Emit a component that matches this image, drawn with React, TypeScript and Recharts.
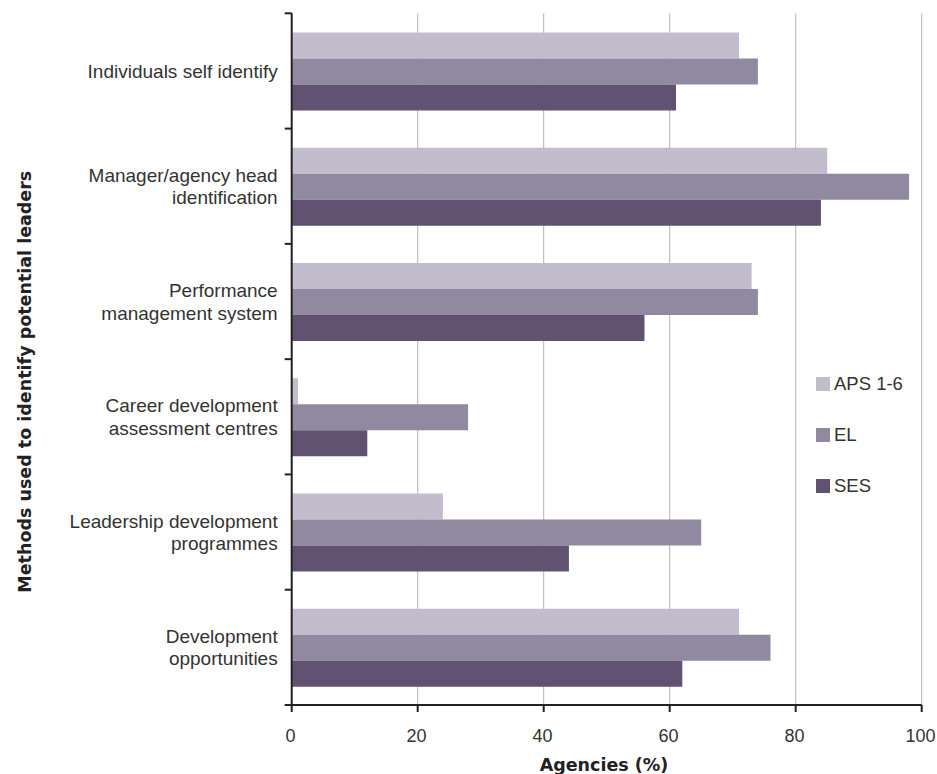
import React from 'react';
import { BarChart, Bar, XAxis, YAxis, CartesianGrid, Legend } from 'recharts';

const categories = [
  'Individuals self identify',
  'Manager/agency head\nidentification',
  'Performance\nmanagement system',
  'Career development\nassessment centres',
  'Leadership development\nprogrammes',
  'Development\nopportunities',
];
const apsValues = [71, 85, 73, 1, 24, 71];
const elValues = [74, 98, 74, 28, 65, 76];
const sesValues = [61, 84, 56, 12, 44, 62];
const xTicks = [0, 20, 40, 60, 80, 100];
const seriesNames = ['APS 1-6', 'EL', 'SES'];
const seriesKeys = ['aps', 'el', 'ses'];
const colors = ['#c1bdcd', '#91899f', '#615272'];

const data = categories.map((c, i) => ({
  category: c,
  aps: apsValues[i],
  el: elValues[i],
  ses: sesValues[i],
}));

const BODY_FONT = '"Liberation Sans", Arial, sans-serif';
const TITLE_FONT = '"DejaVu Sans", sans-serif';
const TICK_MARGIN = 14;
const TICK_LEN = 7;

const CatTick = (props: any) => {
  const { x, y, payload, index, visibleTicksCount } = props;
  const lines = String(payload.value).split('\n');
  const lh = 22.6;
  const y0 = y - ((lines.length - 1) * lh) / 2 + 6.8;
  const half = payload.offset ?? 0;
  const axisX = x + TICK_MARGIN;
  const isLast = index === visibleTicksCount - 1;
  return (
    <g>
      <line x1={axisX - TICK_LEN} x2={axisX} y1={y - half} y2={y - half} stroke="#222" strokeWidth={2} />
      {isLast && (
        <line x1={axisX - TICK_LEN} x2={axisX} y1={y + half} y2={y + half} stroke="#222" strokeWidth={2} />
      )}
      <text x={x} y={y0} textAnchor="end" fill="#333" fontSize={19} fontFamily={BODY_FONT}>
        {lines.map((l, i) => (
          <tspan key={i} x={x} y={y0 + i * lh}>
            {l}
          </tspan>
        ))}
      </text>
    </g>
  );
};

const LegendContent = () => (
  <div style={{ fontFamily: BODY_FONT }}>
    {seriesNames.map((n, i) => (
      <div
        key={n}
        style={{
          display: 'flex',
          alignItems: 'center',
          height: 14,
          marginBottom: i < seriesNames.length - 1 ? 37 : 0,
        }}
      >
        <span
          style={{ width: 14, height: 14, background: colors[i], display: 'inline-block', marginRight: 4 }}
        />
        <span style={{ fontSize: 18.5, color: '#333', lineHeight: '14px', whiteSpace: 'nowrap' }}>{n}</span>
      </div>
    ))}
  </div>
);

export default function App() {
  return (
    <div style={{ position: 'absolute', left: 8, top: 8, width: 929, height: 766 }}>
      <style>{'html{overflow:hidden}.recharts-surface{overflow:visible}'}</style>
      <BarChart
        width={929}
        height={766}
        data={data}
        layout="vertical"
        margin={{ top: 5.3, right: 15.3, bottom: 0, left: 0 }}
        barCategoryGap="16.6%"
        barGap={0}
        style={{ fontFamily: BODY_FONT }}
      >
        <CartesianGrid horizontal={false} stroke="#b3b3b3" strokeWidth={1} />
        <XAxis
          type="number"
          domain={[0, 100]}
          ticks={xTicks}
          height={69}
          tickSize={TICK_LEN}
          tickMargin={16.8}
          axisLine={{ stroke: '#222', strokeWidth: 2 }}
          tickLine={{ stroke: '#222', strokeWidth: 2 }}
          tick={{ fill: '#333', fontSize: 18, fontFamily: BODY_FONT, dx: -1.3 }}
          label={{
            content: () => (
              <text
                x={596}
                y={763}
                textAnchor="middle"
                fill="#222"
                fontWeight="bold"
                fontSize={17.5}
                fontFamily={TITLE_FONT}
              >
                Agencies (%)
              </text>
            ),
          }}
        />
        <YAxis
          type="category"
          dataKey="category"
          width={283.7}
          axisLine={{ stroke: '#222', strokeWidth: 2 }}
          tickLine={false}
          tickSize={0}
          tickMargin={TICK_MARGIN}
          interval={0}
          tick={<CatTick />}
          label={{
            content: () => (
              <text
                x={17}
                y={373.7}
                transform="rotate(-90, 17, 373.7)"
                textAnchor="middle"
                dy="0.35em"
                fill="#222"
                fontWeight="bold"
                fontSize={17.5}
                fontFamily={TITLE_FONT}
              >
                Methods used to identify potential leaders
              </text>
            ),
          }}
        />
        <Legend
          layout="vertical"
          align="center"
          verticalAlign="middle"
          content={<LegendContent />}
          wrapperStyle={{ position: 'absolute', left: 808, top: 369, width: 'auto', height: 'auto' }}
        />
        {seriesKeys.map((k, i) => (
          <Bar key={k} dataKey={k} name={seriesNames[i]} fill={colors[i]} isAnimationActive={false} />
        ))}
      </BarChart>
    </div>
  );
}
